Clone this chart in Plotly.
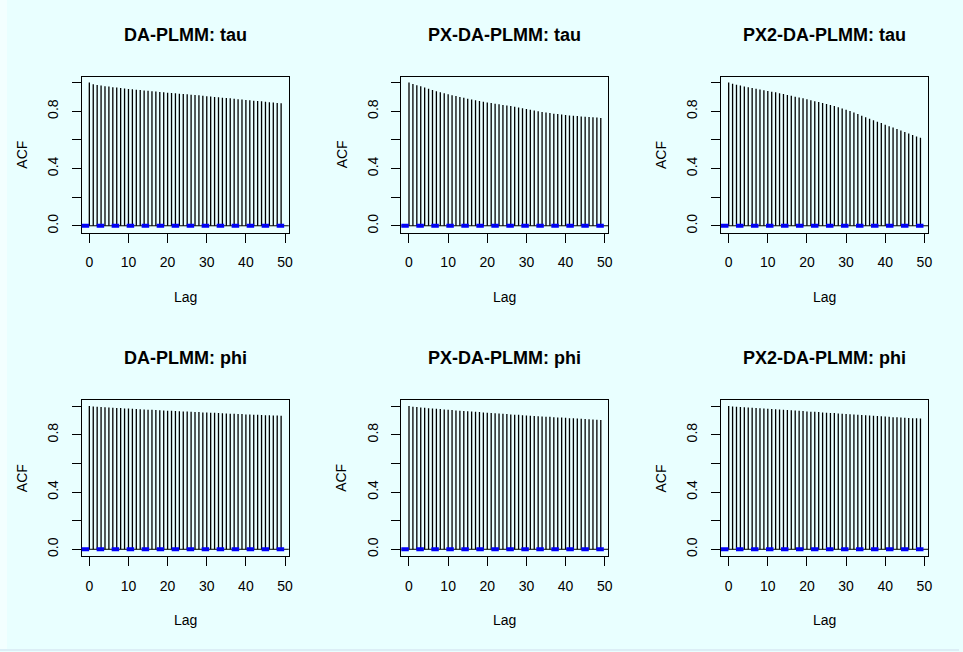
import plotly.graph_objects as go

# Autocorrelation estimates for lags 0..49 of each sampler / parameter
lags = list(range(50))

acf_da_tau = [1.000, 0.988, 0.983, 0.979, 0.975, 0.972, 0.968, 0.965, 0.962, 0.959,
              0.956, 0.953, 0.950, 0.948, 0.945, 0.943, 0.940, 0.938, 0.935, 0.933,
              0.930, 0.928, 0.926, 0.923, 0.921, 0.919, 0.916, 0.913, 0.911, 0.908,
              0.905, 0.903, 0.900, 0.898, 0.895, 0.892, 0.890, 0.887, 0.884, 0.882,
              0.879, 0.877, 0.874, 0.871, 0.869, 0.866, 0.863, 0.861, 0.858, 0.855]

acf_pxda_tau = [1.000, 0.990, 0.982, 0.974, 0.966, 0.957, 0.948, 0.940, 0.932, 0.925,
                0.918, 0.912, 0.906, 0.900, 0.894, 0.888, 0.882, 0.876, 0.871, 0.866,
                0.861, 0.857, 0.852, 0.848, 0.844, 0.840, 0.836, 0.831, 0.826, 0.821,
                0.816, 0.810, 0.805, 0.800, 0.795, 0.791, 0.787, 0.783, 0.780, 0.777,
                0.774, 0.771, 0.768, 0.766, 0.764, 0.762, 0.760, 0.758, 0.756, 0.752]

acf_px2da_tau = [1.000, 0.992, 0.985, 0.979, 0.973, 0.968, 0.962, 0.957, 0.952, 0.947,
                 0.942, 0.937, 0.932, 0.926, 0.920, 0.914, 0.908, 0.902, 0.896, 0.890,
                 0.883, 0.877, 0.870, 0.864, 0.857, 0.850, 0.843, 0.836, 0.828, 0.820,
                 0.811, 0.801, 0.791, 0.780, 0.769, 0.758, 0.747, 0.737, 0.727, 0.717,
                 0.706, 0.696, 0.686, 0.676, 0.665, 0.655, 0.645, 0.634, 0.624, 0.614]

acf_da_phi = [1.000, 0.997, 0.995, 0.993, 0.992, 0.990, 0.989, 0.987, 0.986, 0.984,
              0.983, 0.981, 0.980, 0.978, 0.977, 0.975, 0.974, 0.973, 0.971, 0.970,
              0.968, 0.967, 0.966, 0.964, 0.963, 0.962, 0.960, 0.959, 0.958, 0.956,
              0.955, 0.954, 0.953, 0.951, 0.950, 0.949, 0.947, 0.946, 0.945, 0.944,
              0.942, 0.941, 0.940, 0.939, 0.938, 0.937, 0.936, 0.935, 0.934, 0.933]

acf_pxda_phi = [1.000, 0.996, 0.993, 0.990, 0.988, 0.985, 0.983, 0.981, 0.979, 0.976,
                0.974, 0.972, 0.970, 0.968, 0.966, 0.964, 0.962, 0.960, 0.958, 0.956,
                0.954, 0.952, 0.950, 0.948, 0.946, 0.944, 0.942, 0.940, 0.939, 0.937,
                0.935, 0.933, 0.931, 0.930, 0.928, 0.926, 0.925, 0.923, 0.921, 0.920,
                0.918, 0.916, 0.915, 0.913, 0.912, 0.910, 0.909, 0.907, 0.905, 0.903]

acf_px2da_phi = [1.000, 0.998, 0.996, 0.994, 0.992, 0.990, 0.988, 0.987, 0.985, 0.983,
                 0.981, 0.980, 0.978, 0.976, 0.974, 0.972, 0.971, 0.969, 0.967, 0.965,
                 0.963, 0.961, 0.960, 0.958, 0.956, 0.954, 0.952, 0.951, 0.949, 0.947,
                 0.945, 0.943, 0.941, 0.940, 0.938, 0.936, 0.934, 0.932, 0.931, 0.929,
                 0.927, 0.925, 0.923, 0.922, 0.920, 0.918, 0.917, 0.916, 0.915, 0.914]

titles = ["DA-PLMM: tau", "PX-DA-PLMM: tau", "PX2-DA-PLMM: tau",
          "DA-PLMM: phi", "PX-DA-PLMM: phi", "PX2-DA-PLMM: phi"]
series = [acf_da_tau, acf_pxda_tau, acf_px2da_tau,
          acf_da_phi, acf_pxda_phi, acf_px2da_phi]

# approximate 95% white-noise band (+/- 1.96/sqrt(n))
ci_bound = 0.007

x_ticks = [0, 10, 20, 30, 40, 50]
y_ticks = [0.0, 0.2, 0.4, 0.6, 0.8, 1.0]
y_tick_text = ["0.0", "", "0.4", "", "0.8", ""]

W, H = 963, 652
BG = "#E9FFFF"
FONT = "Liberation Sans, Arial, sans-serif"

# panel geometry in pixels
col_step, row_step = 321, 324
box_left, box_right = 82, 290
box_top, box_bottom = 77, 233

fig = go.Figure()
annotations = []
shapes = []

for i, (title, vals) in enumerate(zip(titles, series)):
    r, c = divmod(i, 3)
    n = i + 1
    xa = "x" if n == 1 else f"x{n}"
    ya = "y" if n == 1 else f"y{n}"
    xl = "xaxis" if n == 1 else f"xaxis{n}"
    yl = "yaxis" if n == 1 else f"yaxis{n}"

    x0 = (box_left + col_step * c) / W
    x1 = (box_right + col_step * c) / W
    y1 = 1 - (box_top + row_step * r) / H
    y0 = 1 - (box_bottom + row_step * r) / H

    # vertical ACF spikes
    xs, ys = [], []
    for lag, v in zip(lags, vals):
        xs += [lag, lag, None]
        ys += [0, v, None]
    fig.add_trace(go.Scatter(x=xs, y=ys, mode="lines",
                             line=dict(color="black", width=1.3),
                             xaxis=xa, yaxis=ya, showlegend=False,
                             hoverinfo="skip"))

    axis_common = dict(showline=True, linecolor="black", linewidth=1,
                       mirror=True, ticks="outside", ticklen=9, tickwidth=1,
                       tickcolor="black", showgrid=False, zeroline=False,
                       tickfont=dict(family=FONT, size=14, color="black"))
    fig.layout[xl] = dict(domain=[x0, x1], range=[-1.96, 50.96],
                          tickvals=x_ticks, ticktext=[str(t) for t in x_ticks],
                          ticklabelstandoff=8, anchor=ya, **axis_common)
    fig.layout[yl] = dict(domain=[y0, y1], range=[-0.048, 1.040],
                          tickvals=y_ticks, ticktext=y_tick_text,
                          tickangle=-90, ticklabelstandoff=8,
                          anchor=xa, **axis_common)

    # zero line and confidence band
    shapes.append(dict(type="line", xref=f"{xa} domain", yref=ya,
                       x0=0, x1=1, y0=0, y1=0,
                       line=dict(color="black", width=1)))
    for s in (1, -1):
        shapes.append(dict(type="line", xref=f"{xa} domain", yref=ya,
                           x0=0, x1=1, y0=s * ci_bound, y1=s * ci_bound,
                           line=dict(color="#0000FF", width=2,
                                     dash="7.5px,7.5px")))

    cx = (box_left + box_right) / 2 + col_step * c
    annotations.append(dict(text=f"<b>{title}</b>", xref="paper", yref="paper",
                            x=cx / W, y=1 - (35 + row_step * r) / H,
                            xanchor="center", yanchor="middle", showarrow=False,
                            font=dict(family=FONT, size=18, color="black")))
    annotations.append(dict(text="Lag", xref="paper", yref="paper",
                            x=cx / W, y=1 - (297 + row_step * r) / H,
                            xanchor="center", yanchor="middle", showarrow=False,
                            font=dict(family=FONT, size=14, color="black")))
    annotations.append(dict(text="ACF", xref="paper", yref="paper",
                            x=(22 + col_step * c) / W,
                            y=1 - ((box_top + box_bottom) / 2 + row_step * r) / H,
                            xanchor="center", yanchor="middle", showarrow=False,
                            textangle=-90,
                            font=dict(family=FONT, size=14, color="black")))

# thin border strips around the canvas
shapes.append(dict(type="rect", xref="paper", yref="paper", x0=0, x1=7 / W,
                   y0=0, y1=1, fillcolor="#F3FFFF", line=dict(width=0),
                   layer="below"))
shapes.append(dict(type="rect", xref="paper", yref="paper", x0=0, x1=1,
                   y0=0, y1=2 / H, fillcolor="#DCEEF6", line=dict(width=0),
                   layer="below"))

fig.update_layout(width=W, height=H, margin=dict(l=0, r=0, t=0, b=0),
                  paper_bgcolor=BG, plot_bgcolor=BG,
                  annotations=annotations, shapes=shapes, showlegend=False)

fig.write_html("out.html")
